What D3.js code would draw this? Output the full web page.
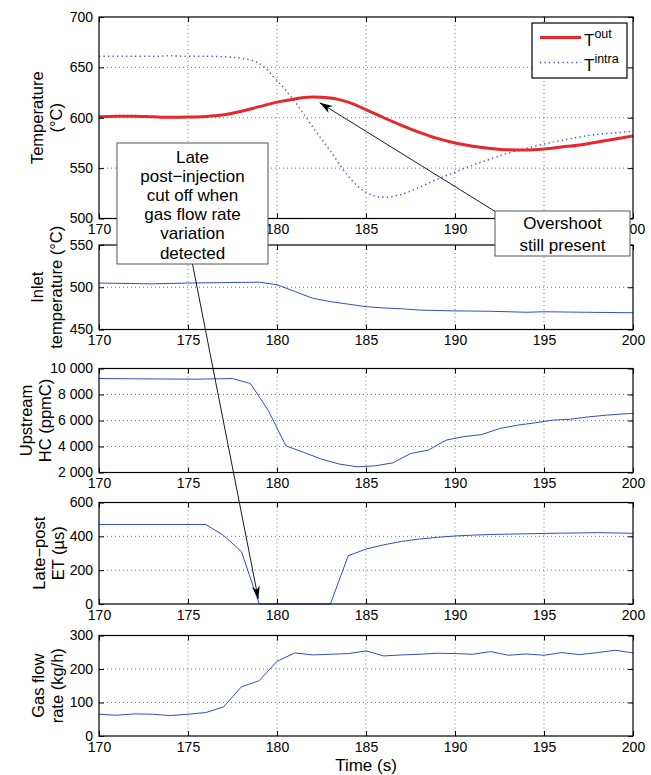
<!DOCTYPE html>
<html><head><meta charset="utf-8">
<script src="https://cdn.jsdelivr.net/npm/d3@7"></script>
<style>
body{margin:0;background:#fff}
text{font-family:"Liberation Sans",Arial,Helvetica,sans-serif}
</style>
</head><body>
<svg id="chart" width="651" height="775"></svg>
<script>
// ---------------- DATA ----------------
const xTicks = [170, 175, 180, 185, 190, 195, 200];

const tempTime = [170,171,172,173,174,175,176,177,178,179,180,181,182,183,184,185,186,187,188,189,190,191,192,193,194,195,196,197,198,199,200];
const tOut   = [601,601.6,601.6,601,600.5,600.7,601.3,603,606.5,611,615.5,618.7,620.5,619.7,615.5,608,600,592.5,585.5,579.5,575,571.8,569.5,568.2,568,569,571,573,576,579,582];
const tIntra = [661,661,661,661,661.5,661,661,660.5,659,654,637,616,591,567,542,526,521,524,531,539,546,553,559,565,569.5,574,577.5,581,583.5,585,586.5];
const tempTicks = [500,550,600,650,700];
const tempTickLabels = ["500","550","600","650","700"];

const inletTime = [170,173,175,179,180,181,182,183,184,185,186,187,188,189,190,192,194,195,197,200];
const inletTemp = [505,504,505,506,503,495,487,483,480,477,475.5,474.5,473,472.5,472,471.6,470.4,471,470.5,469.8];
const inletTicks = [450,500,550];
const inletTickLabels = ["450","500","550"];

const hcTime = [170,172.5,175.5,177.5,178.5,179.5,180.5,181.5,182.5,183.5,184.5,185.5,186.5,187.5,188.5,189.5,190.5,191.5,192.5,193.5,194.5,195.5,196.5,197.5,198.5,199.5,200];
const hcValue = [9230,9200,9180,9230,8850,6800,4050,3550,3030,2650,2440,2510,2740,3460,3720,4490,4760,4920,5380,5640,5820,6030,6100,6280,6410,6510,6540];
const hcTicks = [2000,4000,6000,8000,10000];
const hcTickLabels = ["2 000","4 000","6 000","8 000","10 000"];

const etTime = [170,176,177,178,179,180,181,182,183,184,185,186,187,188,189,190,191,192,193,194,195,196,197,198,199,200];
const etValue = [470,470,405,310,0,0,0,0,0,285,325,350,370,384,394,402,407,411,413,415,417,419,420,422,420,418];
const etTicks = [0,200,400,600];
const etTickLabels = ["0","200","400","600"];

const gasTime = [170,171,172,173,174,175,176,177,178,179,180,181,182,183,184,185,186,187,188,189,190,191,192,193,194,195,196,197,198,199,200];
const gasValue = [65,62,66,65,61,65,70,87,147,165,223,248,242,244,246,254,239,242,244,247,246,244,252,241,245,241,249,243,249,256,248];
const gasTicks = [0,100,200,300];
const gasTickLabels = ["0","100","200","300"];

const legendLabels = [{base:"T", sup:"out"}, {base:"T", sup:"intra"}];
const note1Lines = ["Late","post\u2212injection","cut off when","gas flow rate","variation","detected"];
const note2Lines = ["Overshoot","still present"];
const note1Target = {x:178.95, y:30};   // panel 4 data coords
const note2Target = {x:182.4, y:615};   // panel 1 data coords
const xLabel = "Time (s)";

// ---------------- LAYOUT ----------------
const svg = d3.select("#chart");
const L = 99, R = 633;
const FONT = '"Liberation Sans",Arial,Helvetica,sans-serif';
const BLUE = "#2f4fc2", RED = "#e8272b";

const x = d3.scaleLinear().domain([170,200]).range([L,R]);

const panels = [
  {top:17, bottom:218.5, ticks:tempTicks, labels:tempTickLabels, yl:["Temperature","(\u00B0C)"], yc:46.5},
  {top:245, bottom:329.5, ticks:inletTicks, labels:inletTickLabels, yl:["Inlet","temperature (\u00B0C)"], yc:46.5},
  {top:368.5, bottom:472.5, ticks:hcTicks, labels:hcTickLabels, yl:["Upstream","HC (ppmC)"], yc:35.5},
  {top:502.5, bottom:604, ticks:etTicks, labels:etTickLabels, yl:["Late\u2212post","ET (\u00B5s)"], yc:48},
  {top:635.5, bottom:736, ticks:gasTicks, labels:gasTickLabels, yl:["Gas flow","rate (kg/h)"], yc:47.5}
];

panels.forEach(p => {
  p.y = d3.scaleLinear().domain([p.ticks[0], p.ticks[p.ticks.length-1]]).range([p.bottom, p.top]);
  const g = svg.append("g");
  p.g = g;
  g.append("rect").attr("x",L).attr("y",p.top).attr("width",R-L).attr("height",p.bottom-p.top).attr("fill","#fff");
  // grid
  const grid = g.append("g").attr("stroke","#555").attr("stroke-width",0.8).attr("stroke-dasharray","1,3");
  xTicks.slice(1,-1).forEach(t => grid.append("line").attr("x1",x(t)).attr("x2",x(t)).attr("y1",p.top).attr("y2",p.bottom));
  p.ticks.slice(1,-1).forEach(t => grid.append("line").attr("x1",L).attr("x2",R).attr("y1",p.y(t)).attr("y2",p.y(t)));
  p.lines = g.append("g");
  // axes
  const styleAxis = a => { a.attr("font-size",14).attr("font-family",FONT); a.select(".domain").remove();
    a.selectAll("line").attr("stroke","#000"); a.selectAll("text").attr("fill","#000"); };
  g.append("g").attr("transform",`translate(0,${p.bottom})`)
    .call(d3.axisBottom(x).tickValues(xTicks).tickFormat(d3.format("d")).tickSizeInner(-5).tickSizeOuter(0).tickPadding(6)).call(styleAxis);
  g.append("g").attr("transform",`translate(0,${p.top})`)
    .call(d3.axisTop(x).tickValues(xTicks).tickFormat("").tickSizeInner(-5).tickSizeOuter(0)).call(styleAxis);
  g.append("g").attr("transform",`translate(${L},0)`)
    .call(d3.axisLeft(p.y).tickValues(p.ticks).tickFormat((d,i)=>p.labels[i]).tickSizeInner(-5).tickSizeOuter(0).tickPadding(6)).call(styleAxis);
  g.append("g").attr("transform",`translate(${R},0)`)
    .call(d3.axisRight(p.y).tickValues(p.ticks).tickFormat("").tickSizeInner(-5).tickSizeOuter(0)).call(styleAxis);
  g.append("rect").attr("x",L).attr("y",p.top).attr("width",R-L).attr("height",p.bottom-p.top)
    .attr("fill","none").attr("stroke","#000").attr("stroke-width",1.2);
  // y label
  const cy = (p.top+p.bottom)/2;
  p.yl.forEach((s,i) => {
    const gx = p.yc + (i===0 ? -9.5 : 9.5) + 6;
    svg.append("text").attr("transform",`translate(${gx},${cy}) rotate(-90)`)
      .attr("text-anchor","middle").attr("font-size",16.5).attr("fill","#000").text(s);
  });
});

function addLine(p, xs, ys, color, width, dash, curve) {
  const pts = xs.map((t,i)=>[t, ys[i]]);
  const line = d3.line().x(d=>x(d[0])).y(d=>p.y(d[1])).curve(curve || d3.curveLinear);
  const path = p.lines.append("path").datum(pts).attr("d",line).attr("fill","none")
    .attr("stroke",color).attr("stroke-width",width).attr("stroke-linejoin","round");
  if (dash) path.attr("stroke-dasharray",dash);
}
addLine(panels[0], tempTime, tIntra, "#3a5ad2", 1.5, "1.3,3.2", d3.curveMonotoneX);
addLine(panels[0], tempTime, tOut, RED, 3, null, d3.curveMonotoneX);
addLine(panels[1], inletTime, inletTemp, BLUE, 1);
addLine(panels[2], hcTime, hcValue, BLUE, 1);
addLine(panels[3], etTime, etValue, BLUE, 1);
addLine(panels[4], gasTime, gasValue, BLUE, 1);

// x label
svg.append("text").attr("x",(L+R)/2).attr("y",770.5).attr("text-anchor","middle")
  .attr("font-size",17).attr("fill","#000").text(xLabel);

// legend
const lg = svg.append("g");
lg.append("rect").attr("x",532).attr("y",23).attr("width",95).attr("height",55)
  .attr("fill","#fff").attr("stroke","#000").attr("stroke-width",1.2);
const legStyles = [{c:RED,w:3,d:null},{c:"#3a5ad2",w:1.5,d:"1.3,3.2"}];
legendLabels.forEach((lab,i) => {
  const yy = 37.5 + i*25;
  lg.append("line").attr("x1",540).attr("x2",581).attr("y1",yy).attr("y2",yy)
    .attr("stroke",legStyles[i].c).attr("stroke-width",legStyles[i].w).attr("stroke-dasharray",legStyles[i].d);
  const t = lg.append("text").attr("x",584).attr("y",yy+8.5).attr("font-size",17).attr("fill","#000");
  t.append("tspan").text(lab.base);
  t.append("tspan").attr("dy",-8).attr("font-size",12.5).text(lab.sup);
});

// arrows
function arrow(x1,y1,x2,y2) {
  svg.append("line").attr("x1",x1).attr("y1",y1).attr("x2",x2).attr("y2",y2)
    .attr("stroke","#000").attr("stroke-width",0.9);
  const a = Math.atan2(y2-y1, x2-x1), len = 13, hw = 4;
  const bx = x2 - len*Math.cos(a), by = y2 - len*Math.sin(a);
  const nx = x2 - len*0.7*Math.cos(a), ny = y2 - len*0.7*Math.sin(a);
  const px = -Math.sin(a)*hw, py = Math.cos(a)*hw;
  svg.append("path").attr("d",`M${x2},${y2}L${bx+px},${by+py}L${nx},${ny}L${bx-px},${by-py}Z`).attr("fill","#000");
}
arrow(192.5, 264, x(note1Target.x), panels[3].y(note1Target.y));
arrow(496, 212, x(note2Target.x), panels[0].y(note2Target.y));

// note boxes
function noteBox(x0,y0,w,h,lines,firstBase,step) {
  svg.append("rect").attr("x",x0).attr("y",y0).attr("width",w).attr("height",h)
    .attr("fill","#fff").attr("stroke","#555").attr("stroke-width",1);
  lines.forEach((s,i)=> svg.append("text").attr("x",x0+w/2).attr("y",firstBase+i*step)
    .attr("text-anchor","middle").attr("font-size",17).attr("fill","#000").text(s));
}
noteBox(117, 143, 151, 121, note1Lines, 163, 19.1);
noteBox(495, 211, 135, 45, note2Lines, 229, 22);
</script>
</body></html>
